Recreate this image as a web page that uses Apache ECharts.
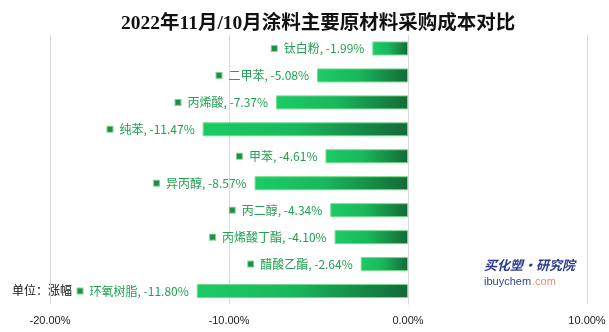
<!DOCTYPE html>
<html><head><meta charset="utf-8">
<script src="https://cdn.jsdelivr.net/npm/echarts@6/dist/echarts.min.js"></script>
<style>html,body{margin:0;padding:0;background:#fff}#c{width:609px;height:332px}</style>
</head><body><div id="c"></div>
<script>
const categories = ['钛白粉','二甲苯','丙烯酸','纯苯','甲苯','异丙醇','丙二醇','丙烯酸丁酯','醋酸乙酯','环氧树脂'];
const values = [-1.99,-5.08,-7.37,-11.47,-4.61,-8.57,-4.34,-4.10,-2.64,-11.80];
const tickValues = [-20,-10,0,10];
const title = '2022年11月/10月涂料主要原材料采购成本对比';
const unitText = '单位：涨幅';

const chart = echarts.init(document.getElementById('c'));
const cjk = 'Noto Sans CJK SC';
chart.setOption({
  animation:false,
  backgroundColor:'#fff',
  title:{text:title,left:116,top:9,textStyle:{fontFamily:'Liberation Serif, Noto Sans CJK SC, serif',fontWeight:'bold',fontSize:19.5,color:'#111'}},
  grid:{left:50,right:22,top:35,bottom:27.5},
  xAxis:{type:'value',min:tickValues[0],max:tickValues[tickValues.length-1],interval:10,
    axisLine:{show:false},axisTick:{show:false},
    splitLine:{lineStyle:{color:'#d9d9d9',width:1}},
    axisLabel:{formatter:v=>v.toFixed(2)+'%',color:'#222',fontSize:11,fontFamily:'Liberation Sans',margin:11}},
  yAxis:{type:'category',data:categories,inverse:true,axisLine:{show:false},axisTick:{show:false},axisLabel:{show:false},splitLine:{show:false}},
  series:[{type:'bar',data:values,barWidth:14,
    itemStyle:{color:new echarts.graphic.LinearGradient(0,0,1,0,[{offset:0,color:'#1ccb66'},{offset:0.45,color:'#19b85c'},{offset:1,color:'#146a37'}]),borderColor:'#74d98c',borderWidth:1},
    label:{show:true,position:'left',distance:8,
      formatter:p=>'{m|}{t|'+p.name+', '+p.value.toFixed(2)+'%}',
      rich:{m:{width:5,height:5,backgroundColor:'#1f8f45',borderColor:'#86d496',borderWidth:1,padding:0},
            t:{color:'#22a152',fontSize:12,fontFamily:cjk,padding:[0,0,0,7]}}}
  }],
  graphic:[
    {type:'text',left:12,top:284,style:{text:unitText,fill:'#111',fontSize:12,fontFamily:cjk}},
    {type:'text',left:484,top:259,style:{text:'买化塑·研究院',fill:'#2b3990',fontSize:13,fontWeight:'bold',fontStyle:'italic',fontFamily:cjk}},
    {type:'text',left:484,top:276,style:{text:'ibuychem',fill:'#34448f',fontSize:11,fontFamily:'Liberation Sans'}},
    {type:'text',left:532,top:276,style:{text:'.com',fill:'#f08a6c',fontSize:11,fontFamily:'Liberation Sans'}}
  ]
});
</script></body></html>
